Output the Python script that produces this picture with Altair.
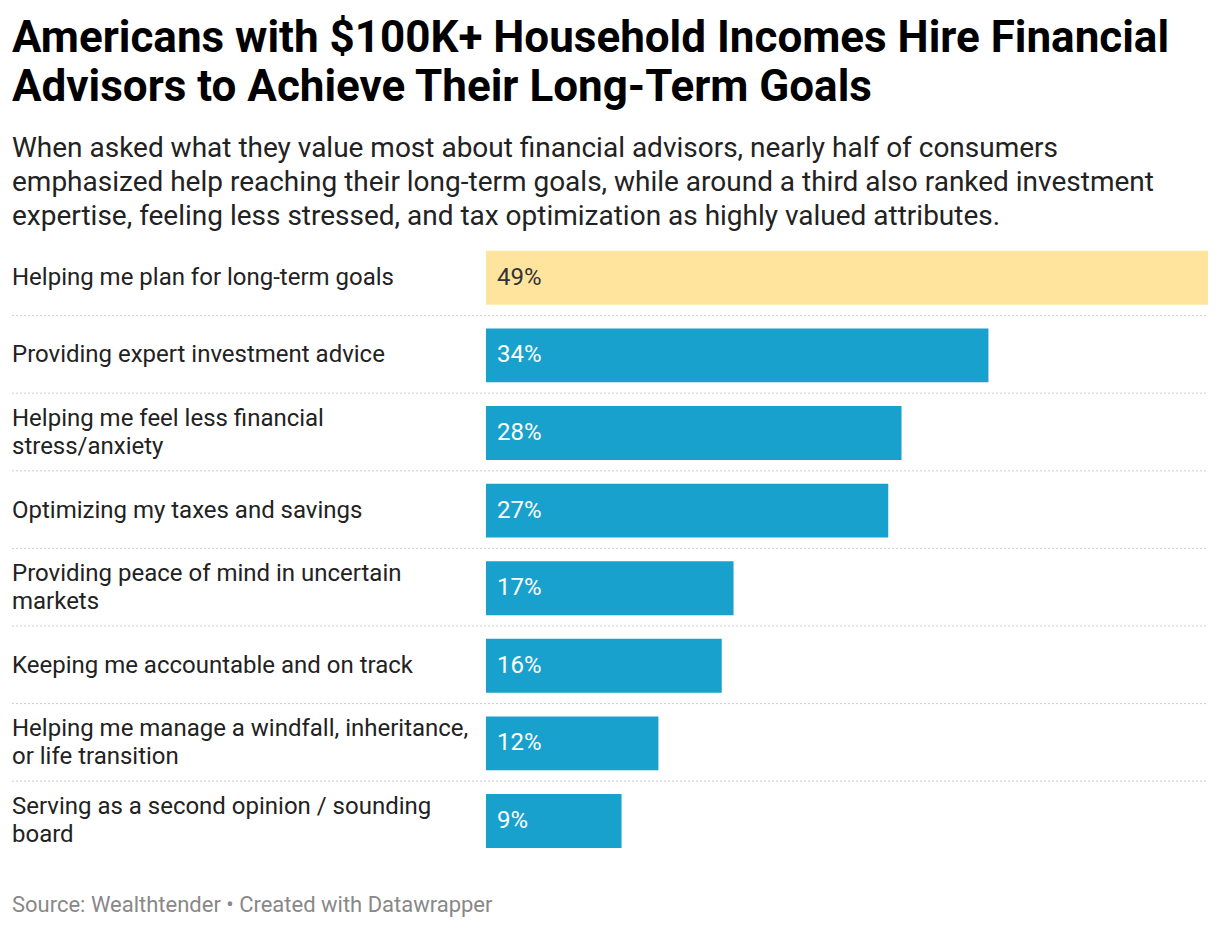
import altair as alt
import pandas as pd

categories = [
    "Helping me plan for long-term goals",
    "Providing expert investment advice",
    "Helping me feel less financial\nstress/anxiety",
    "Optimizing my taxes and savings",
    "Providing peace of mind in uncertain\nmarkets",
    "Keeping me accountable and on track",
    "Helping me manage a windfall, inheritance,\nor life transition",
    "Serving as a second opinion / sounding\nboard",
]
values = [49.0, 34.1, 28.2, 27.3, 16.8, 16.0, 11.7, 9.2]
value_labels = ["49%", "34%", "28%", "27%", "17%", "16%", "12%", "9%"]
highlight = ["yes", "no", "no", "no", "no", "no", "no", "no"]

title_lines = [
    "Americans with $100K+ Household Incomes Hire Financial",
    "Advisors to Achieve Their Long-Term Goals",
]
subtitle_lines = [
    "When asked what they value most about financial advisors, nearly half of consumers",
    "emphasized help reaching their long-term goals, while around a third also ranked investment",
    "expertise, feeling less stressed, and tax optimization as highly valued attributes.",
]
source_text = "Source: Wealthtender \u2022 Created with Datawrapper"

FONT = "Roboto"
W = 722
STEP = 77.6
H = STEP * 8
LABEL_X = -474
PI = 0.3055
PO = 0.1528

df = pd.DataFrame({"cat": categories, "value": values, "label": value_labels, "hl": highlight})
df["nlines"] = df["cat"].str.count("\n") + 1
sep_df = pd.DataFrame({"cat": categories[:-1]})


def yenc():
    return alt.Y("cat:N", sort=categories, axis=None,
                 scale=alt.Scale(paddingInner=PI, paddingOuter=PO))


xenc = alt.X("value:Q", axis=None, scale=alt.Scale(domain=[0, 49], nice=False, zero=True))

bars = alt.Chart(df).mark_bar().encode(
    x=xenc, y=yenc(),
    color=alt.condition("datum.hl == 'yes'", alt.value("#fee49c"), alt.value("#19a1cd")),
)

vals = alt.Chart(df).mark_text(align="left", baseline="middle", dx=11, fontSize=24, font=FONT).encode(
    x=alt.value(0), y=yenc(), text="label:N",
    color=alt.condition("datum.hl == 'yes'", alt.value("#333333"), alt.value("#ffffff")),
)

cats1 = alt.Chart(df).transform_filter("datum.nlines == 1").mark_text(
    align="left", baseline="middle", fontSize=24, font=FONT, color="#222222").encode(
    x=alt.value(LABEL_X), y=yenc(), text="cat:N",
)

cats2 = alt.Chart(df).transform_filter("datum.nlines == 2").mark_text(
    align="left", baseline="middle", lineBreak="\n", fontSize=24, lineHeight=28, dy=-14,
    font=FONT, color="#222222").encode(
    x=alt.value(LABEL_X), y=yenc(), text="cat:N",
)

seps = alt.Chart(sep_df).mark_rule(strokeDash=[2, 2], color="#cccccc", strokeWidth=1,
                                   yOffset=STEP / 2 - 1).encode(
    x=alt.value(LABEL_X), x2=alt.value(W),
    y=alt.Y("cat:N", sort=categories, axis=None, bandPosition=0.5,
            scale=alt.Scale(paddingInner=PI, paddingOuter=PO)),
)

title = alt.Chart(pd.DataFrame({"t": ["\n".join(title_lines)]})).mark_text(
    align="left", baseline="alphabetic", lineBreak="\n", fontSize=44, fontWeight="bold",
    lineHeight=49, font=FONT, color="#000000").encode(
    x=alt.value(LABEL_X), y=alt.value(52 - 239), text="t:N")

subtitle = alt.Chart(pd.DataFrame({"t": ["\n".join(subtitle_lines)]})).mark_text(
    align="left", baseline="alphabetic", lineBreak="\n", fontSize=28,
    lineHeight=34, font=FONT, color="#222222").encode(
    x=alt.value(LABEL_X), y=alt.value(157 - 239), text="t:N")

source = alt.Chart(pd.DataFrame({"t": [source_text]})).mark_text(
    align="left", baseline="middle", fontSize=22, font=FONT, color="#888888").encode(
    x=alt.value(LABEL_X), y=alt.value(905 - 239), text="t:N")

chart = alt.layer(seps, bars, vals, cats1, cats2, title, subtitle, source).properties(
    width=W, height=H,
    autosize=alt.AutoSizeParams(type="none"),
    padding={"left": 478, "top": 231, "right": 4, "bottom": 60},
).configure_view(stroke=None)

chart.save("out.html", embed_options={"renderer": "svg", "actions": False})
